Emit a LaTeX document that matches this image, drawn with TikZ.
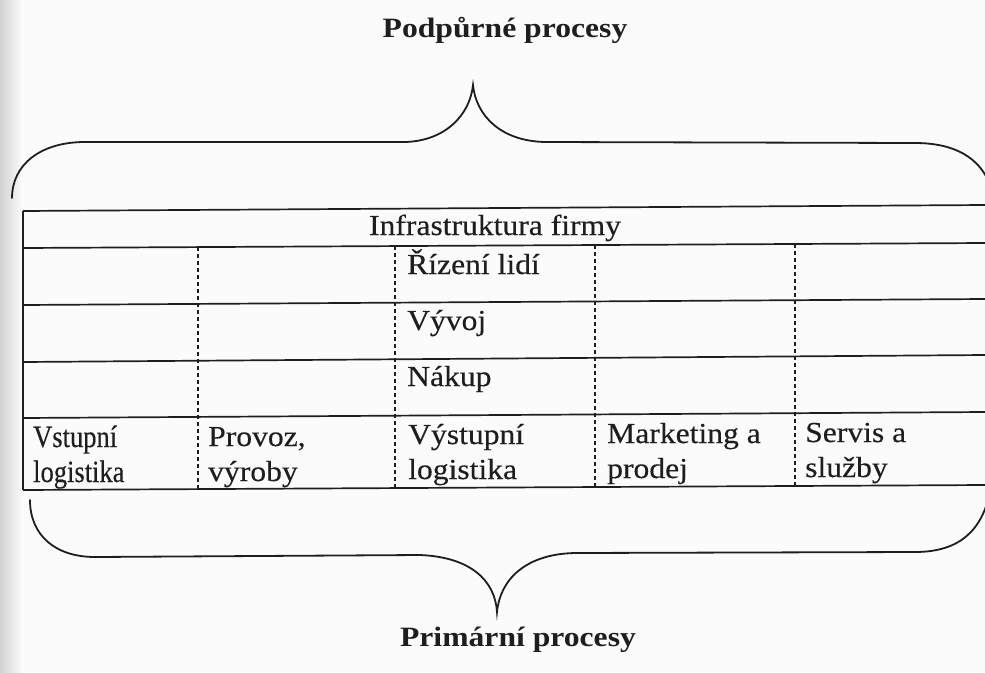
\documentclass[tikz,border=0pt]{standalone}
\usepackage{fontspec}
\setmainfont{Liberation Serif}
\newfontfamily\cellfont[FakeStretch=1.09, FakeBold=0.3]{Liberation Serif}
\newfontfamily\narrowcell[FakeStretch=0.855, FakeBold=0.3]{Liberation Serif}
\newfontfamily\titlefont[FakeStretch=1.13]{Liberation Serif}
\definecolor{ink}{HTML}{1E1E1E}
\definecolor{paper}{HTML}{FBFBFB}
\tikzset{
  rule/.style={draw=ink, line width=1.7pt},
  divider/.style={draw=ink, line width=1.1pt, dash pattern=on 4pt off 3pt},
  bracket/.style={draw=ink, line width=1.8pt, line cap=round},
  celltext/.style={inner sep=0pt, anchor=base west, text=ink,
    font=\cellfont\fontsize{29}{35}\selectfont},
  narrowtext/.style={celltext, font=\narrowcell\fontsize{31}{35}\selectfont},
  title/.style={inner sep=0pt, anchor=base, text=ink,
    font=\titlefont\bfseries\fontsize{28}{33}\selectfont},
}
\begin{document}
\begin{tikzpicture}[x=1pt, y=-1pt]
  % page
  \useasboundingbox (0,0) rectangle (985,672);
  \fill[paper] (0,0) rectangle (985,672);
  \shade[left color=black!18, right color=paper] (0,0) rectangle (22,672);

  % titles
  \node[title] (support) at (505,37) {Podpůrné procesy};
  \node[title] (primary) at (518,646) {Primární procesy};

  % upper brace
  \draw[bracket] (12,198) .. controls (12,165) and (40,142) .. (85,142)
    -- (405,142) .. controls (445,141) and (470,115) .. (473,85)
    .. controls (476,115) and (500,141) .. (545,142)
    -- (915,143) .. controls (955,143) and (980,158) .. (990,185);

  % lower brace
  \draw[bracket] (30,500) .. controls (30,535) and (55,557) .. (95,557)
    -- (420,555) .. controls (470,557) and (495,580) .. (497,612)
    .. controls (500,580) and (525,554) .. (575,553)
    -- (915,552) .. controls (960,552) and (982,530) .. (990,492);

  % table rules
  \draw[rule] (23,211) -- (985,205);
  \draw[rule] (23,248) -- (985,243);
  \draw[rule] (23,305) -- (985,299);
  \draw[rule] (23,362) -- (985,355);
  \draw[rule] (23,418) -- (985,412);
  \draw[rule] (23,490) -- (985,485);
  \draw[rule] (23,211) -- (23,490);

  % column dividers
  \draw[divider] (198,247) -- (198,489);
  \draw[divider] (395,246) -- (395,488);
  \draw[divider] (595,245) -- (595,487);
  \draw[divider] (795,244) -- (795,486);

  % support rows
  \node[celltext, anchor=base] (infra) at (495,235) {Infrastruktura firmy};
  \node[celltext] (hr) at (407,274) {Řízení lidí};
  \node[celltext] (dev) at (407,330) {Vývoj};
  \node[celltext] (buy) at (407,386) {Nákup};

  % primary activities
  \node[narrowtext] (in1) at (33,447) {Vstupní};
  \node[narrowtext] (in2) at (33,482) {logistika};
  \node[celltext] (op1) at (208,446) {Provoz,};
  \node[celltext] (op2) at (208,481) {výroby};
  \node[celltext] (out1) at (408,444) {Výstupní};
  \node[celltext] (out2) at (408,479) {logistika};
  \node[celltext] (mk1) at (607,443) {Marketing a};
  \node[celltext] (mk2) at (607,478) {prodej};
  \node[celltext] (sv1) at (805,442) {Servis a};
  \node[celltext] (sv2) at (805,477) {služby};
\end{tikzpicture}
\end{document}
